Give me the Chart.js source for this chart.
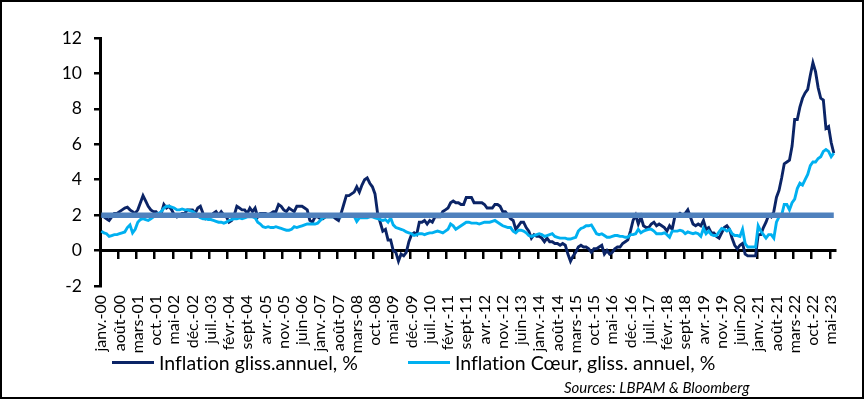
<!DOCTYPE html>
<html lang="fr">
<head>
<meta charset="utf-8">
<title>Inflation zone euro</title>
<script src="https://cdn.jsdelivr.net/npm/chart.js@4.4.0/dist/chart.umd.min.js"></script>
<style>
  html, body { margin: 0; padding: 0; background: #fff; }
  #frame {
    position: relative; width: 864px; height: 399px; box-sizing: border-box;
    border: 2px solid #000; background: #fff; font-family: Lato, "Open Sans", sans-serif; color: #000;
    font-variant-ligatures: none;
  }
  #chart { position: absolute; left: 0; top: 0; }
  .legend-item { position: absolute; top: 349px; display: flex; align-items: center; font-size: 19.5px; white-space: nowrap; }
  .legend-line { width: 42px; height: 3px; margin-right: 5px; }
  #source { position: absolute; left: 562px; top: 376px; font-size: 15px; font-style: italic; }
</style>
</head>
<body>
<div id="frame">
  <canvas id="chart" width="860" height="395"></canvas>
  <div id="legend"></div>
  <div id="source">Sources: LBPAM &amp; Bloomberg</div>
</div>
<script>
// --- Data: euro area, monthly, janv. 2000 -> juin 2023 ---
const MONTHS = ['janv.', 'févr.', 'mars', 'avr.', 'mai', 'juin', 'juil.', 'août', 'sept', 'oct.', 'nov.', 'déc.'];
const FIRST_YEAR = 2000;
const LABEL_STEP = 7; // one label every 7 months

const SERIES_NAMES = ['Inflation gliss.annuel, %', 'Inflation Cœur, gliss. annuel, %'];
const TARGET_LEVEL = 2;

const INFLATION = [
  2.0, 1.9, 1.8, 1.7, 1.9, 2.1, 2.1, 2.2, 2.3, 2.4, 2.45, 2.3,   // 2000
  2.2, 2.1, 2.3, 2.7, 3.1, 2.8, 2.5, 2.3, 2.2, 2.2, 2.0, 2.1,    // 2001
  2.6, 2.4, 2.5, 2.3, 2.0, 1.9, 2.0, 2.1, 2.1, 2.3, 2.3, 2.3,    // 2002
  2.1, 2.4, 2.5, 2.1, 1.8, 1.9, 1.9, 2.1, 2.2, 2.0, 2.2, 2.0,    // 2003
  1.9, 1.6, 1.7, 2.0, 2.5, 2.4, 2.3, 2.3, 2.1, 2.4, 2.2, 2.4,    // 2004
  1.9, 2.1, 2.1, 2.1, 2.0, 2.1, 2.2, 2.2, 2.6, 2.5, 2.3, 2.2,    // 2005
  2.4, 2.3, 2.2, 2.5, 2.5, 2.5, 2.4, 2.3, 1.7, 1.6, 1.9, 1.9,    // 2006
  1.8, 1.8, 1.9, 1.9, 1.9, 1.9, 1.8, 1.7, 2.1, 2.6, 3.1, 3.1,    // 2007
  3.2, 3.3, 3.6, 3.3, 3.7, 4.0, 4.1, 3.8, 3.6, 3.2, 2.1, 1.6,    // 2008
  1.1, 1.2, 0.6, 0.6, 0.0, -0.1, -0.6, -0.2, -0.3, -0.1, 0.5, 0.9, // 2009
  1.0, 0.9, 1.6, 1.6, 1.7, 1.5, 1.7, 1.6, 1.9, 1.9, 1.9, 2.2,    // 2010
  2.3, 2.4, 2.7, 2.8, 2.7, 2.7, 2.6, 2.6, 3.0, 3.0, 3.0, 2.7,    // 2011
  2.7, 2.7, 2.7, 2.6, 2.4, 2.4, 2.4, 2.6, 2.6, 2.5, 2.2, 2.2,    // 2012
  2.0, 1.8, 1.7, 1.2, 1.4, 1.6, 1.6, 1.3, 1.1, 0.7, 0.9, 0.8,    // 2013
  0.8, 0.7, 0.5, 0.7, 0.5, 0.5, 0.4, 0.4, 0.3, 0.4, 0.3, -0.2,   // 2014
  -0.6, -0.3, -0.1, 0.2, 0.3, 0.2, 0.2, 0.1, -0.1, 0.1, 0.1, 0.2, // 2015
  0.3, -0.2, 0.0, -0.2, -0.1, 0.1, 0.2, 0.2, 0.4, 0.5, 0.6, 1.1, // 2016
  1.7, 2.0, 1.5, 1.9, 1.4, 1.3, 1.3, 1.5, 1.6, 1.4, 1.5, 1.4,    // 2017
  1.3, 1.1, 1.4, 1.2, 1.9, 2.0, 2.1, 2.0, 2.1, 2.3, 1.9, 1.5,    // 2018
  1.4, 1.5, 1.4, 1.7, 1.2, 1.3, 1.0, 1.0, 0.8, 0.7, 1.0, 1.3,    // 2019
  1.4, 1.2, 0.7, 0.3, 0.1, 0.3, 0.4, -0.2, -0.3, -0.3, -0.3, -0.3, // 2020
  0.9, 0.9, 1.3, 1.6, 2.0, 1.9, 2.2, 3.0, 3.4, 4.1, 4.9, 5.0,    // 2021
  5.1, 5.9, 7.4, 7.4, 8.1, 8.6, 8.9, 9.1, 9.9, 10.6, 10.1, 9.2,  // 2022
  8.6, 8.5, 6.9, 7.0, 6.1, 5.5                                   // 2023
];

const CORE = [
  1.1, 1.0, 0.95, 0.8, 0.85, 0.9, 0.9, 0.95, 1.0, 1.05, 1.3, 1.45,  // 2000
  1.0, 1.2, 1.6, 1.75, 1.8, 1.75, 1.7, 1.8, 1.9, 2.05, 2.1, 2.2,    // 2001
  2.4, 2.5, 2.5, 2.45, 2.4, 2.3, 2.3, 2.35, 2.3, 2.3, 2.25, 2.2,    // 2002
  2.1, 1.95, 1.85, 1.8, 1.8, 1.75, 1.75, 1.7, 1.65, 1.6, 1.6, 1.55, // 2003
  1.6, 1.7, 1.75, 1.8, 1.8, 1.85, 1.8, 1.85, 1.9, 1.9, 1.9, 1.85,   // 2004
  1.6, 1.5, 1.35, 1.3, 1.35, 1.3, 1.3, 1.35, 1.3, 1.25, 1.2, 1.15,  // 2005
  1.15, 1.2, 1.35, 1.3, 1.35, 1.4, 1.45, 1.5, 1.5, 1.5, 1.5, 1.55,  // 2006
  1.7, 1.85, 1.9, 1.9, 1.9, 1.9, 1.95, 1.9, 1.9, 1.95, 2.0, 1.95,   // 2007
  1.95, 1.95, 1.65, 1.85, 1.85, 1.85, 1.85, 1.9, 1.9, 1.85, 1.8, 1.75, // 2008
  1.7, 1.75, 1.6, 1.85, 1.45, 1.3, 1.25, 1.2, 1.15, 1.05, 1.0, 0.95,   // 2009
  0.85, 0.9, 0.95, 0.95, 0.9, 0.95, 1.0, 1.0, 1.05, 1.1, 1.05, 1.0, // 2010
  1.1, 1.2, 1.5, 1.4, 1.2, 1.3, 1.4, 1.5, 1.6, 1.6, 1.55, 1.55,     // 2011
  1.55, 1.5, 1.55, 1.6, 1.6, 1.6, 1.65, 1.7, 1.6, 1.5, 1.4, 1.35,   // 2012
  1.3, 1.3, 1.1, 1.0, 1.15, 1.15, 1.1, 1.0, 0.85, 0.8, 0.85, 0.9,   // 2013
  0.95, 0.9, 0.8, 0.85, 0.9, 0.95, 0.8, 0.75, 0.7, 0.7, 0.7, 0.65,  // 2014
  0.65, 0.7, 0.75, 1.1, 1.25, 1.3, 1.4, 1.4, 1.45, 1.2, 0.95, 0.9,  // 2015
  0.95, 0.85, 0.75, 0.75, 0.8, 0.85, 0.85, 0.8, 0.8, 0.75, 0.75, 0.9, // 2016
  0.9, 0.95, 1.2, 1.0, 1.1, 1.15, 1.2, 1.2, 1.1, 0.95, 0.95, 0.95,  // 2017
  1.0, 0.9, 0.75, 1.1, 1.1, 1.1, 1.15, 1.1, 0.95, 1.05, 1.0, 0.95,  // 2018
  1.0, 0.95, 0.8, 1.25, 0.95, 1.1, 0.9, 0.85, 0.85, 1.05, 1.25, 1.2, // 2019
  1.1, 1.2, 0.95, 0.85, 0.85, 0.8, 1.2, 0.4, 0.2, 0.2, 0.2, 0.2,    // 2020
  1.4, 1.1, 0.9, 0.7, 0.9, 0.9, 0.7, 1.6, 1.9, 2.0, 2.6, 2.6,       // 2021
  2.3, 2.7, 2.9, 3.5, 3.8, 3.7, 4.0, 4.3, 4.8, 5.0, 5.0, 5.2,       // 2022
  5.3, 5.6, 5.7, 5.6, 5.3, 5.5                                      // 2023
];

const COLORS = { inflation: '#0b2466', core: '#00b0f0', target: '#4f81bd' };

// category labels like "janv.-00"
const LABELS = INFLATION.map((_, i) => {
  const yy = String((FIRST_YEAR + Math.floor(i / 12)) % 100).padStart(2, '0');
  return MONTHS[i % 12] + '-' + yy;
});

const FONT = "Lato, 'Open Sans', sans-serif";

const ctx = document.getElementById('chart').getContext('2d');
const chart = new Chart(ctx, {
  type: 'line',
  data: {
    labels: LABELS,
    datasets: [
      {
        label: 'Objectif',
        data: [{ x: LABELS[0], y: TARGET_LEVEL }, { x: LABELS[LABELS.length - 1], y: TARGET_LEVEL }],
        borderColor: COLORS.target,
        borderWidth: 5.5,
        pointRadius: 0,
        order: 0,
        xAxisID: 'x'
      },
      {
        label: SERIES_NAMES[1],
        data: CORE,
        borderColor: COLORS.core,
        borderWidth: 2.9,
        pointRadius: 0,
        order: 1,
        xAxisID: 'x'
      },
      {
        label: SERIES_NAMES[0],
        data: INFLATION,
        borderColor: COLORS.inflation,
        borderWidth: 2.9,
        pointRadius: 0,
        order: 2,
        xAxisID: 'x'
      }
    ]
  },
  options: {
    responsive: false,
    animation: false,
    events: [],
    layout: { padding: { top: 36, right: 13, left: 0, bottom: 0 } },
    plugins: { legend: { display: false }, tooltip: { enabled: false } },
    scales: {
      // axis line through zero with the small tick marks
      x: {
        type: 'category',
        position: { y: 0 },
        offset: true,
        ticks: { display: false, autoSkip: false },
        grid: {
          offset: true,
          drawOnChartArea: false,
          drawTicks: true,
          tickLength: 7,
          lineWidth: 2.5,
          color: c => (c.index % LABEL_STEP === 0 ? '#000' : 'rgba(0,0,0,0)')
        },
        border: { display: true, color: '#000', width: 3 }
      },
      // month labels at the bottom
      xLabels: {
        type: 'category',
        axis: 'x',
        position: 'bottom',
        offset: true,
        grid: { display: false, drawTicks: false },
        border: { display: false },
        ticks: {
          autoSkip: false,
          minRotation: 90,
          maxRotation: 90,
          padding: 9,
          color: '#000',
          font: { family: FONT, size: 16 },
          callback: function (v, i) { return i % LABEL_STEP === 0 ? this.getLabelForValue(v) : ''; }
        },
        afterFit: s => { s.height = 111; }
      },
      y: {
        min: -2,
        max: 12,
        ticks: { stepSize: 2, padding: 12, color: '#000', font: { family: FONT, size: 17.5 } },
        grid: { drawOnChartArea: false, drawTicks: true, tickLength: 6, color: '#000', lineWidth: 2.5 },
        border: { display: true, color: '#000', width: 3 },
        afterFit: s => { s.width = 98; }
      }
    }
  }
});

// legend built from the chart's own datasets
const legend = document.getElementById('legend');
const LEGEND_LEFT = [110, 406];
SERIES_NAMES.forEach((name, k) => {
  const ds = chart.data.datasets.find(d => d.label === name);
  const item = document.createElement('div');
  item.className = 'legend-item';
  item.style.left = LEGEND_LEFT[k] + 'px';
  item.innerHTML = '<span class="legend-line" style="background:' + ds.borderColor + '"></span><span>' + name + '</span>';
  legend.appendChild(item);
});
</script>
</body>
</html>
